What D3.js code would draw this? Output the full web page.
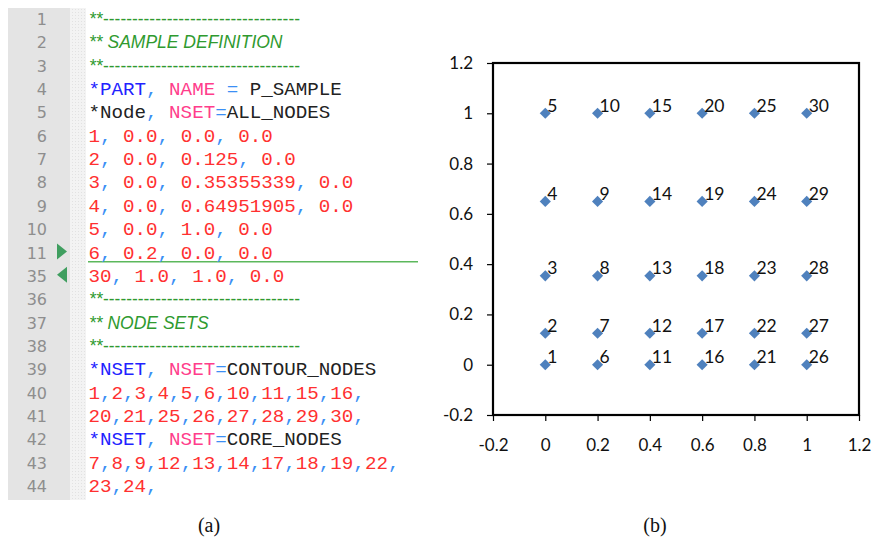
<!DOCTYPE html>
<html><head><meta charset="utf-8">
<script src="https://cdn.jsdelivr.net/npm/d3@7"></script>
<style>
html,body{margin:0;padding:0;background:#fff;}
svg{display:block;}
text{white-space:pre;}
</style></head>
<body>
<svg id="fig" width="872" height="539"></svg>
<script>
// ---------- data: code listing ----------
const lineNumbers = ["1","2","3","4","5","6","7","8","9","10","11","35","36","37","38","39","40","41","42","43","44"];
const lineKinds   = ["dash","comment","dash","kw","kw","data","data","data","data","data","data","data","dash","comment","dash","kw","data","data","kw","data","data"];
const lineTexts = [
  "", "** SAMPLE DEFINITION", "",
  "*PART|, |NAME| = |P_SAMPLE",
  "*Node|, |NSET|=|ALL_NODES",
  "1, 0.0, 0.0, 0.0",
  "2, 0.0, 0.125, 0.0",
  "3, 0.0, 0.35355339, 0.0",
  "4, 0.0, 0.64951905, 0.0",
  "5, 0.0, 1.0, 0.0",
  "6, 0.2, 0.0, 0.0",
  "30, 1.0, 1.0, 0.0",
  "", "** NODE SETS", "",
  "*NSET|, |NSET|=|CONTOUR_NODES",
  "1,2,3,4,5,6,10,11,15,16,",
  "20,21,25,26,27,28,29,30,",
  "*NSET|, |NSET|=|CORE_NODES",
  "7,8,9,12,13,14,17,18,19,22,",
  "23,24,"
];
const kwColors = {
  "*PART":"#2222ff", "*NSET":"#2222ff", "*Node":"#222222",
  ", ":"#3b8ff5", " = ":"#3b8ff5", "=":"#3b8ff5",
  "NAME":"#ff3d8b", "NSET":"#ff3d8b"
};
const arrowRows = [{row:10, dir:"right"}, {row:11, dir:"left"}];

// ---------- data: node chart ----------
const nodeIds = [1,2,3,4,5,6,7,8,9,10,11,12,13,14,15,16,17,18,19,20,21,22,23,24,25,26,27,28,29,30];
const nodeX = [0,0,0,0,0, 0.2,0.2,0.2,0.2,0.2, 0.4,0.4,0.4,0.4,0.4, 0.6,0.6,0.6,0.6,0.6, 0.8,0.8,0.8,0.8,0.8, 1,1,1,1,1];
const nodeY = [0,0.125,0.35355339,0.64951905,1, 0,0.125,0.35355339,0.64951905,1, 0,0.125,0.35355339,0.64951905,1,
               0,0.125,0.35355339,0.64951905,1, 0,0.125,0.35355339,0.64951905,1, 0,0.125,0.35355339,0.64951905,1];
const xTicks = [-0.2,0,0.2,0.4,0.6,0.8,1,1.2];
const xTickLabels = ["-0.2","0","0.2","0.4","0.6","0.8","1","1.2"];
const yTicks = [-0.2,0,0.2,0.4,0.6,0.8,1,1.2];
const yTickLabels = ["-0.2","0","0.2","0.4","0.6","0.8","1","1.2"];
const captions = ["(a)","(b)"];

const svg = d3.select("#fig");
svg.append("rect").attr("width",872).attr("height",539).attr("fill","#fff");

// ================= Panel (a): code listing =================
const code = svg.append("g");
const rowY = d3.scaleLinear().domain([0,20]).range([25,492]);
code.append("rect").attr("x",8).attr("y",8).attr("width",62).attr("height",492).attr("fill","#e4e4e4");
const pat = svg.append("defs").append("pattern").attr("id","hatch").attr("width",3).attr("height",3)
  .attr("patternUnits","userSpaceOnUse");
pat.append("rect").attr("width",3).attr("height",3).attr("fill","#f3f3f3");
pat.append("rect").attr("width",1).attr("height",1).attr("fill","#e2e2e2");
code.append("rect").attr("x",70).attr("y",8).attr("width",16).attr("height",492).attr("fill","url(#hatch)");

code.selectAll("text.ln").data(lineNumbers).join("text").attr("class","ln")
  .attr("x",47).attr("y",(d,i)=>rowY(i)).attr("text-anchor","end")
  .attr("font-family","DejaVu Sans").attr("font-size",16).attr("fill","#8e8e8e").text(d=>d);

arrowRows.forEach(a=>{
  const cy = rowY(a.row) - 7;
  const pts = a.dir==="right" ? [[57,cy-8],[67,cy],[57,cy+8]] : [[67,cy-8],[57,cy],[67,cy+8]];
  code.append("path").attr("d", d3.line()(pts)+"Z").attr("fill","#3f9e5f");
});
code.append("line").attr("x1",88).attr("x2",418).attr("y1",261.7).attr("y2",261.7)
  .attr("stroke","#5cb85c").attr("stroke-width",1.6);

const green = "#2f9a2f";
lineTexts.forEach((t,i)=>{
  const y = rowY(i), kind = lineKinds[i];
  if (kind==="dash") {
    code.append("text").attr("x",89).attr("y",y).attr("font-family","Liberation Sans").attr("font-style","italic")
      .attr("font-size",17.5).attr("fill",green).text("**");
    code.append("text").attr("x",103).attr("y",y).attr("font-family","Liberation Sans")
      .attr("font-size",17.5).attr("fill",green).attr("textLength",197).attr("lengthAdjust","spacingAndGlyphs")
      .text("-".repeat(34));
  } else if (kind==="comment") {
    code.append("text").attr("x",89).attr("y",y).attr("font-family","Liberation Sans").attr("font-style","italic")
      .attr("font-size",17.5).attr("fill",green).text(t);
  } else {
    const tx = code.append("text").attr("x",88.5).attr("y",y).attr("font-family","Liberation Mono").attr("font-size",19.2);
    let parts;
    if (kind==="kw") parts = t.split("|").map(s=>({s, c: kwColors[s] || "#222222"}));
    else parts = t.split(/(,\s*)/).filter(s=>s.length).map(s=>({s, c: s.startsWith(",") ? "#3b8ff5" : "#ff3030"}));
    parts.forEach(p=>tx.append("tspan").attr("fill",p.c).text(p.s));
  }
});

// ================= Panel (b): node scatter =================
const x = d3.scaleLinear().domain([-0.2,1.2]).range([493,859]);
const y = d3.scaleLinear().domain([-0.2,1.2]).range([415,63]);
const chart = svg.append("g");

const xAxis = chart.append("g").attr("transform",`translate(0,${y(-0.2)})`)
  .call(d3.axisBottom(x).tickValues(xTicks).tickFormat((d,i)=>xTickLabels[i]).tickSize(6).tickSizeOuter(0));
xAxis.select(".domain").remove();
xAxis.selectAll(".tick line").attr("stroke","#000").attr("stroke-width",1.2);
xAxis.selectAll(".tick text").attr("y",35.5).attr("dy",0).attr("font-family","Lato").attr("font-size",17).attr("fill","#111");

const yAxis = chart.append("g").attr("transform",`translate(${x(-0.2)},0)`)
  .call(d3.axisLeft(y).tickValues(yTicks).tickFormat((d,i)=>yTickLabels[i]).tickSize(6).tickSizeOuter(0).tickPadding(14));
yAxis.select(".domain").remove();
yAxis.selectAll(".tick line").attr("stroke","#000").attr("stroke-width",1.2);
yAxis.selectAll(".tick text").attr("font-family","Lato").attr("font-size",17).attr("fill","#111");

chart.append("rect").attr("x",x(-0.2)).attr("y",y(1.2)).attr("width",x(1.2)-x(-0.2)).attr("height",y(-0.2)-y(1.2))
  .attr("fill","none").attr("stroke","#000").attr("stroke-width",2.2);

const nodes = nodeIds.map((id,i)=>({id, x:nodeX[i], y:nodeY[i]}));
chart.selectAll("path.pt").data(nodes).join("path").attr("class","pt")
  .attr("d", d3.symbol(d3.symbolSquare, 62)())
  .attr("transform", d=>`translate(${x(d.x)},${y(d.y)}) rotate(45)`)
  .attr("fill","#4f81bd");
chart.selectAll("text.lbl").data(nodes).join("text").attr("class","lbl")
  .attr("x", d=>x(d.x)+2).attr("y", d=>y(d.y)-1.5)
  .attr("font-family","Lato").attr("font-size",17.5).attr("fill","#111").text(d=>d.id);

// captions
svg.selectAll("text.cap").data(captions).join("text").attr("class","cap")
  .attr("x",(d,i)=>[209,655][i]).attr("y",532).attr("text-anchor","middle")
  .attr("font-family","Liberation Serif").attr("font-size",20).attr("fill","#111").text(d=>d);
</script>
</body></html>
